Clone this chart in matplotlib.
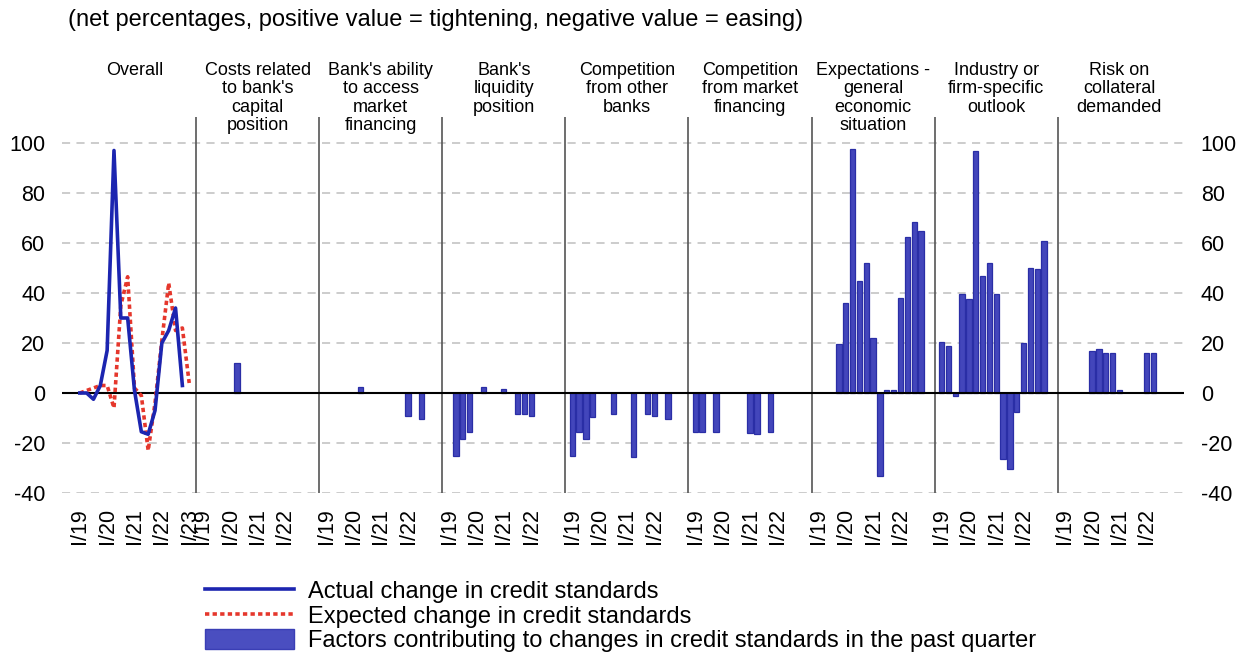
import matplotlib
matplotlib.use("Agg")
import matplotlib.pyplot as plt
import matplotlib.transforms as mtransforms
from matplotlib.lines import Line2D
from matplotlib.patches import Patch
import numpy as np

plt.rcParams['font.family'] = ['Liberation Sans', 'DejaVu Sans']

# ---------------- data ----------------
quarters = ["I/19", "II/19", "III/19", "IV/19", "I/20", "II/20", "III/20", "IV/20",
            "I/21", "II/21", "III/21", "IV/21", "I/22", "II/22", "III/22", "IV/22", "I/23"]
year_labels = ["I/19", "I/20", "I/21", "I/22", "I/23"]

panel_titles = ["Overall",
                "Costs related\nto bank's\ncapital\nposition",
                "Bank's ability\nto access\nmarket\nfinancing",
                "Bank's\nliquidity\nposition",
                "Competition\nfrom other\nbanks",
                "Competition\nfrom market\nfinancing",
                "Expectations -\ngeneral\neconomic\nsituation",
                "Industry or\nfirm-specific\noutlook",
                "Risk on\ncollateral\ndemanded"]

actual = [0, 0, -2.5, 3, 17, 97, 30, 30, 1, -15.5, -16.5, -7, 20, 25, 34, 3]
expected = [0, 1, 2, 3, 3, -6, 35, 46.5, 2, -1, -23, -4, 21, 44, 25, 26, 4]

N = None
costs_capital = [N, N, N, N, N, 12, N, N, N, N, N, N, N, N, N, N]
market_access = [N, N, N, N, N, 2.5, N, N, N, N, N, N, -9, N, -10.5, N]
liquidity = [N, -25, -18.5, -15.5, N, 2.5, N, N, 1.5, N, -8.5, -8.5, -9, N, N, N]
comp_banks = [-25, -15.5, -18.5, -9.5, N, N, -8.5, N, N, -25.5, N, -8.5, -9, N, -10.5, N]
comp_market = [-15.5, -15.5, N, -15.5, N, N, N, N, -16, -16.5, N, -15.5, N, N, N, N]
expectations = [N, N, N, 19.5, 36, 97.5, 45, 52, 22, -33, 1.2, 1.2, 38, 62.5, 68.5, 65]
industry = [20.5, 19, -1, 39.5, 37.5, 97, 47, 52, 39.5, -26.5, -30.5, -7.5, 20, 50, 49.5, 61]
collateral = [N, N, N, N, 17, 17.5, 16, 16, 1.2, N, N, N, 16, 16, N, N]

bar_panels = [costs_capital, market_access, liquidity, comp_banks, comp_market,
              expectations, industry, collateral]

yticks = [-40, -20, 0, 20, 40, 60, 80, 100]

# ---------------- styling ----------------
BAR_FILL = '#4346bb'
BAR_EDGE = '#2a2ea6'
LINE_BLUE = '#1c25b0'
LINE_RED = '#e5372c'
SLOTS = 18

W, H = 1254, 656
fig = plt.figure(figsize=(W / 100, H / 100), dpi=100)
left_px, right_px, top_px, bot_px = 62, 1184, 117, 493
ax = fig.add_axes([left_px / W, 1 - bot_px / H, (right_px - left_px) / W, (bot_px - top_px) / H])

ymin, ymax = -40, 110.4
ax.set_ylim(ymin, ymax)
ax.set_xlim(-1.6, 162.45)

# gridlines
for v in yticks:
    if v == 0:
        continue
    ax.axhline(v, color='#c8c8c8', lw=1.3, ls=(0, (4.5, 3.5)), zorder=0)
ax.axhline(0, color='black', lw=1.5, zorder=3)

# panel separators
for k in range(1, 9):
    ax.axvline(k * SLOTS, color='#555555', lw=1.2, zorder=1)

# overall lines
xa = [1 + i for i in range(len(actual))]
xe = [1 + i for i in range(len(expected))]
ax.plot(xe, expected, color=LINE_RED, lw=2.6, ls=(0, (1.2, 0.9)), zorder=4)
ax.plot(xa, actual, color=LINE_BLUE, lw=2.6, zorder=5)

# bars
for p, vals in enumerate(bar_panels, start=1):
    xs, hs = [], []
    for q, v in enumerate(vals):
        if v is None:
            continue
        xs.append(p * SLOTS + 1 + q)
        hs.append(v)
    ax.bar(xs, hs, width=0.78, color=BAR_FILL, edgecolor=BAR_EDGE, lw=0.9, zorder=2)

# x ticks
tick_pos, tick_lab = [], []
for p in range(9):
    nyears = 5 if p == 0 else 4
    for j in range(nyears):
        tick_pos.append(p * SLOTS + 1 + 4 * j)
        tick_lab.append(year_labels[j])
ax.set_xticks(tick_pos)
ax.set_xticklabels(tick_lab, rotation=90, fontsize=15.5)
ax.tick_params(axis='x', length=0, pad=11)

# y ticks both sides
ax.set_yticks(yticks)
ax.set_yticklabels([str(v) for v in yticks], fontsize=15.5)
ax.tick_params(axis='y', length=0, pad=12, labelleft=True, labelright=True)

for s in ax.spines.values():
    s.set_visible(False)

# panel titles
trans = mtransforms.blended_transform_factory(ax.transData, fig.transFigure)
for p, t in enumerate(panel_titles):
    ax.text(p * SLOTS + 9, 1 - 62 / H, t, transform=trans, ha='center', va='top',
            fontsize=13, linespacing=1.1, multialignment='center')

# figure title
fig.text(68 / W, 1 - 9 / H, "(net percentages, positive value = tightening, negative value = easing)",
         ha='left', va='top', fontsize=17)

# legend
handles = [Line2D([], [], color=LINE_BLUE, lw=2.6),
           Line2D([], [], color=LINE_RED, lw=2.6, ls=(0, (1.2, 0.9))),
           Patch(facecolor='#4a4ec0', edgecolor='#3a3eb5', lw=1)]
labels = ["Actual change in credit standards",
          "Expected change in credit standards",
          "Factors contributing to changes in credit standards in the past quarter"]
fig.legend(handles, labels, loc='upper left', bbox_to_anchor=(205 / W, 1 - 580 / H),
           frameon=False, fontsize=17, handlelength=3.75, handleheight=0.95,
           handletextpad=0.6, labelspacing=0.05, borderaxespad=0, borderpad=0)

fig.savefig("out.png", dpi=100)
